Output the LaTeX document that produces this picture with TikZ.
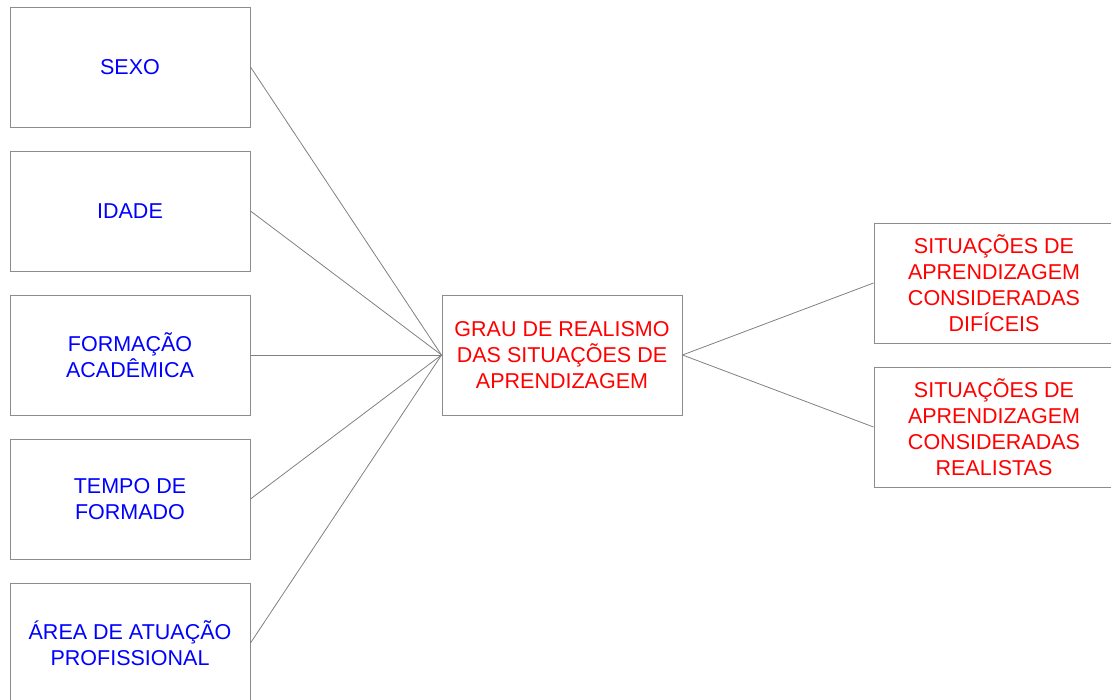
\documentclass[tikz,border=0pt]{standalone}
\usepackage{fontspec}
\setmainfont{Liberation Sans}
\begin{document}
\begin{tikzpicture}[x=1pt,y=-1pt,
  box/.style={draw=black!45,line width=1pt,minimum width=240pt,minimum height=120pt,
    inner sep=0pt,align=center,font=\fontsize{21.5pt}{26pt}\selectfont},
  factor/.style={box,text=blue},
  outcome/.style={box,text=red},
  link/.style={draw=black!50,line width=0.8pt}]
\useasboundingbox (0,0) rectangle (1111,699);
\clip (0,0) rectangle (1111,699);
% independent variables
\node[factor] (sexo)  at (130,67)  {SEXO};
\node[factor] (idade) at (130,211) {IDADE};
\node[factor] (form)  at (130,355) {FORMAÇÃO\\ACADÊMICA};
\node[factor] (tempo) at (130,499) {TEMPO DE\\FORMADO};
\node[factor] (area)  at (130,643) {ÁREA DE ATUAÇÃO\\PROFISSIONAL};
% central variable
\node[outcome] (grau) at (562,355) {GRAU DE REALISMO\\DAS SITUAÇÕES DE\\APRENDIZAGEM};
% dependent variables
\node[outcome] (dif)  at (994,283) {SITUAÇÕES DE\\APRENDIZAGEM\\CONSIDERADAS\\DIFÍCEIS};
\node[outcome] (real) at (994,427) {SITUAÇÕES DE\\APRENDIZAGEM\\CONSIDERADAS\\REALISTAS};
% connectors
\foreach \n in {sexo,idade,form,tempo,area}
  \draw[link] (\n.east) -- (grau.west);
\draw[link] (grau.east) -- (dif.west);
\draw[link] (grau.east) -- (real.west);
\end{tikzpicture}
\end{document}
